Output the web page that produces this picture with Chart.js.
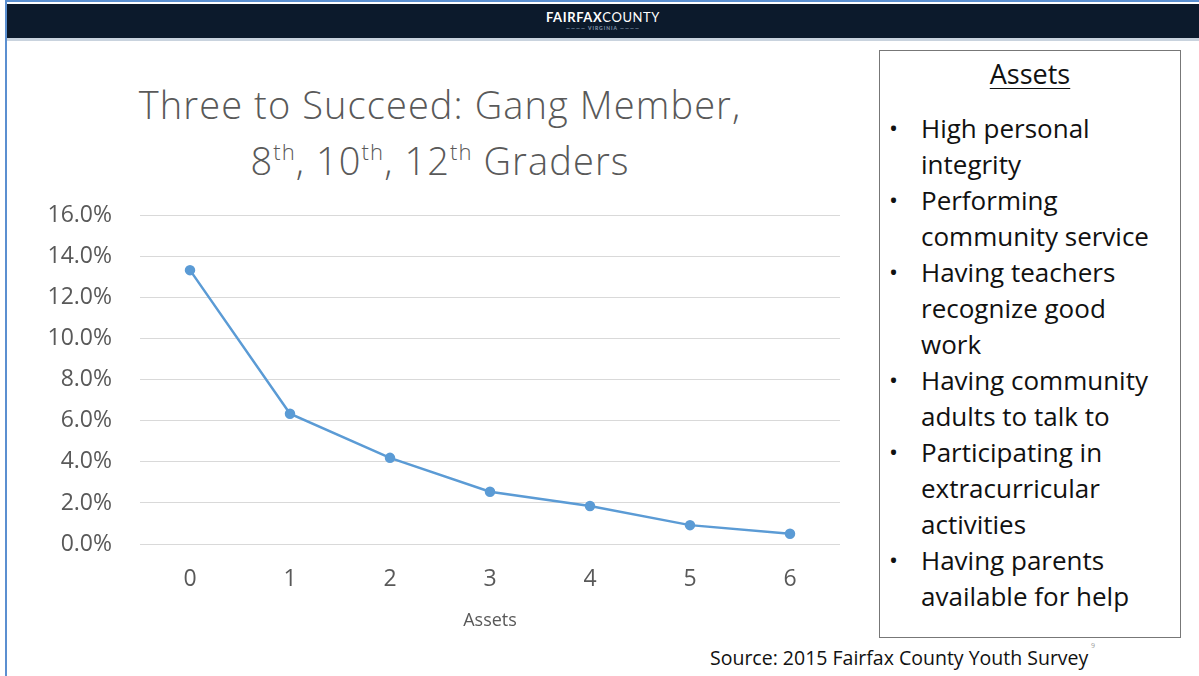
<!DOCTYPE html>
<html>
<head>
<meta charset="utf-8">
<script src="https://cdn.jsdelivr.net/npm/chart.js@4/dist/chart.umd.min.js"></script>
<style>
  html, body { margin: 0; padding: 0; background: #fff; }
  body { width: 1199px; height: 676px; position: relative; overflow: hidden; font-family: "Open Sans", Lato, sans-serif; }
  #frame { position: absolute; left: 5px; top: 0; width: 1194px; height: 676px; border-left: 2px solid #5b8fd0; border-top: 2px solid #5b8fd0; box-sizing: border-box; }
  #header { position: absolute; left: 7px; top: 4px; width: 1192px; height: 34px; background: #0c1a2c; border-bottom: 3px solid #c9d3de; }
  #logo { position: absolute; left: 0; width: 100%; top: 5px; text-align: center; color: #fff; font: bold 13px Lato, sans-serif; letter-spacing: 0.6px; }
  #logo span { font-weight: normal; }
  #logo2 { position: absolute; left: 0; width: 100%; top: 21px; text-align: center; color: #8a9bb0; font: bold 5px Lato, sans-serif; letter-spacing: 1px; }
  #title { position: absolute; left: 70px; width: 740px; top: 76px; text-align: center; color: #595959; font-size: 38px; line-height: 56px; font-weight: 300; letter-spacing: 1.1px; }
  #title sup { font-size: 22px; vertical-align: 0; position: relative; top: -15px; }
  #chartWrap { position: absolute; left: 20px; top: 174px; width: 830px; height: 466px; }
  #box { position: absolute; left: 879px; top: 50px; width: 302px; height: 588px; border: 1.5px solid #777; box-sizing: border-box; color: #111; }
  #box h3 { margin: 0; position: absolute; top: 4px; width: 100%; text-align: center; font-weight: normal; font-size: 27px; text-decoration: underline; text-decoration-thickness: 1px; text-underline-offset: 4px; }
  #box ul { position: absolute; top: 59px; left: 0; margin: 0; padding: 0; list-style: none; font-size: 26px; line-height: 36px; white-space: nowrap; }
  #box li { position: relative; padding-left: 41px; }
  #box li::before { content: "\2022"; position: absolute; left: 9px; font-size: 24px; }
  #source { position: absolute; left: 710px; top: 644px; font-size: 19.5px; color: #111; }
  #pagenum { position: absolute; left: 1091px; top: 641px; font-size: 7px; color: #999; }
</style>
</head>
<body>
<div id="frame"></div>
<div id="header">
  <div id="logo">FAIRFAX<span>COUNTY</span></div>
  <div id="logo2">———— VIRGINIA ————</div>
</div>
<div id="title">Three to Succeed: Gang Member,<br>8<sup>th</sup>, 10<sup>th</sup>, 12<sup>th</sup> Graders</div>
<div id="chartWrap"><canvas id="chart"></canvas></div>
<div id="box">
  <h3>Assets</h3>
  <ul>
    <li>High personal<br>integrity</li>
    <li>Performing<br>community service</li>
    <li>Having teachers<br>recognize good<br>work</li>
    <li>Having community<br>adults to talk to</li>
    <li>Participating in<br>extracurricular<br>activities</li>
    <li>Having parents<br>available for help</li>
  </ul>
</div>
<div id="source">Source: 2015 Fairfax County Youth Survey</div>
<div id="pagenum">9</div>
<script>
// number of assets (x categories)
const assetCounts = ['0', '1', '2', '3', '4', '5', '6'];
// share of students who are gang members, percent
const gangPercent = [13.35, 6.35, 4.2, 2.55, 1.85, 0.92, 0.5];
const yTicksMin = 0;
const yTicksMax = 16;
const yTicksStep = 2;

const lineColor = '#5b9bd5';
const tickColor = '#595959';
const gridColor = '#d9d9d9';
const fontFamily = '"Open Sans", Lato, sans-serif';

new Chart(document.getElementById('chart').getContext('2d'), {
  type: 'line',
  data: {
    labels: assetCounts,
    datasets: [{
      data: gangPercent,
      borderColor: lineColor,
      backgroundColor: lineColor,
      borderWidth: 2.5,
      pointRadius: 4,
      pointHoverRadius: 4,
      tension: 0
    }]
  },
  options: {
    responsive: true,
    maintainAspectRatio: false,
    animation: false,
    layout: { padding: { top: 14, right: 10, left: 0, bottom: 0 } },
    plugins: { legend: { display: false }, tooltip: { enabled: false } },
    scales: {
      x: {
        offset: true,
        grid: { display: false, drawTicks: false },
        border: { display: false },
        ticks: { color: tickColor, padding: 22, font: { family: fontFamily, size: 23 } },
        title: { display: true, text: 'Assets', color: tickColor, font: { family: fontFamily, size: 18 }, padding: { top: 0, bottom: 8 } },
        afterFit: s => { s.height = 96; }
      },
      y: {
        min: yTicksMin,
        max: yTicksMax,
        grid: { color: gridColor, lineWidth: 1, drawTicks: false },
        border: { display: false },
        ticks: {
          stepSize: yTicksStep,
          color: tickColor,
          padding: 28,
          font: { family: fontFamily, size: 23 },
          callback: v => v.toFixed(1) + '%'
        },
        afterFit: s => { s.width = 120; }
      }
    }
  }
});
</script>
</body>
</html>
